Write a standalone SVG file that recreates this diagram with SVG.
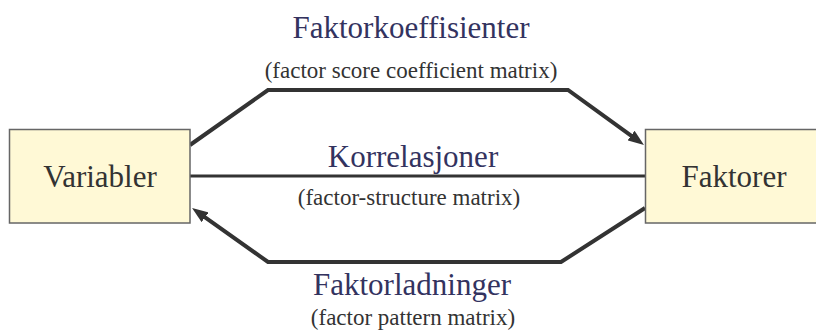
<svg xmlns="http://www.w3.org/2000/svg" width="816" height="334" viewBox="0 0 816 334">
<style>
.box{fill:#FFF9D6;stroke:#666666;stroke-width:1.5}
text{font-family:'Liberation Serif','DejaVu Serif',serif}
.node{font-size:31px;fill:#333333;text-anchor:middle}
.title{font-size:31px;fill:#33335F;text-anchor:middle}
.sub{font-size:23px;fill:#333333;text-anchor:middle}
.conn{fill:none;stroke:#333333;stroke-width:4;stroke-linejoin:miter}
</style>
<defs>
<marker id="arr" viewBox="0 0 16 12" markerWidth="16" markerHeight="12" refX="6" refY="6" orient="auto" markerUnits="userSpaceOnUse">
<path d="M0,0 L16,6 L0,12 z" fill="#333333"/>
</marker>
</defs>
<g id="connectors">
<path class="conn" d="M190,145 L268,90 L568,90 L635.9,139.1" marker-end="url(#arr)"/>
<path class="conn" d="M190,176 L646,176" style="stroke-width:3"/>
<path class="conn" d="M645,208 L561,262 L268,262 L200.2,213.8" marker-end="url(#arr)"/>
</g>
<g id="variabler">
<rect class="box" x="9.5" y="129.5" width="180.5" height="93.5"/>
<text class="node" x="100" y="187" font-family="Liberation Serif">Variabler</text>
</g>
<g id="faktorer">
<rect class="box" x="645.5" y="129.5" width="180" height="93.5"/>
<text class="node" x="734" y="187">Faktorer</text>
</g>
<g id="labels">
<text class="title" x="411" y="38">Faktorkoeffisienter</text>
<text class="sub" x="411" y="78">(factor score coefficient matrix)</text>
<text class="title" x="413" y="167">Korrelasjoner</text>
<text class="sub" x="409" y="205">(factor-structure matrix)</text>
<text class="title" x="412" y="295">Faktorladninger</text>
<text class="sub" x="413" y="325">(factor pattern matrix)</text>
</g>
</svg>
